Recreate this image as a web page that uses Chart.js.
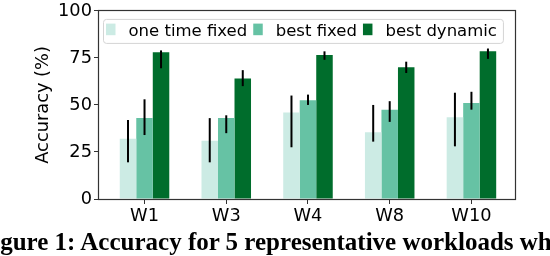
<!DOCTYPE html>
<html>
<head>
<meta charset="utf-8">
<script src="https://cdn.jsdelivr.net/npm/chart.js@4/dist/chart.umd.min.js"></script>
<style>
  html, body { margin: 0; padding: 0; background: #fff; }
  #wrap { position: relative; width: 550px; height: 256px; overflow: hidden; }
  #chartBox { position: absolute; left: 0; top: 0; width: 550px; height: 256px; }
  #caption {
    position: absolute; left: -22px; top: 229px;
    font: bold 25px "Liberation Serif", "Times New Roman", serif;
    line-height: 25px; white-space: nowrap; color: #000;
  }
</style>
</head>
<body>
<div id="wrap">
  <div id="chartBox"><canvas id="accChart"></canvas></div>
  <div id="caption">Figure 1: Accuracy for 5 representative workloads when</div>
</div>
<script>
// categories + series (accuracy %), with error bar ends
const categories = ['W1', 'W3', 'W4', 'W8', 'W10'];
const yTicks = [0, 25, 50, 75, 100];

const oneTimeFixed     = [32, 31, 46, 35.5, 43.5];
const oneTimeFixedLow  = [19.5, 19.5, 27.5, 30.5, 28];
const oneTimeFixedHigh = [42, 43, 55, 50, 56.5];

const bestFixed     = [43, 43, 52.5, 47.5, 51];
const bestFixedLow  = [34, 35, 50, 41, 47.5];
const bestFixedHigh = [53, 44.5, 55.5, 52, 57];

const bestDynamic     = [78, 64, 76.5, 70, 78.5];
const bestDynamicLow  = [69.5, 60, 74, 67, 74.5];
const bestDynamicHigh = [79, 68.5, 78.5, 73, 80];

const FONT = '"DejaVu Sans", sans-serif';
const toPoints = vals => vals.map((v, i) => ({ x: i, y: v }));

// error bars drawn through the scales
const errorBars = {
    id: 'errorBars',
    afterDatasetsDraw(chart) {
        const ctx = chart.ctx;
        const yScale = chart.scales.y;
        ctx.save();
        ctx.strokeStyle = '#000';
        ctx.lineWidth = 2;
        chart.data.datasets.forEach((ds, i) => {
            const meta = chart.getDatasetMeta(i);
            meta.data.forEach((bar, j) => {
                ctx.beginPath();
                ctx.moveTo(bar.x, yScale.getPixelForValue(ds.errLow[j]));
                ctx.lineTo(bar.x, yScale.getPixelForValue(ds.errHigh[j]));
                ctx.stroke();
            });
        });
        ctx.restore();
    }
};

// matplotlib style box around the plot
const frame = {
    id: 'frame',
    afterDraw(chart) {
        const { ctx, chartArea: a } = chart;
        ctx.save();
        ctx.strokeStyle = '#333';
        ctx.lineWidth = 1.2;
        ctx.strokeRect(Math.round(a.left) - 0.5, Math.round(a.top) - 0.5,
            Math.round(a.right - a.left) + 1, Math.round(a.bottom - a.top) + 1);
        ctx.restore();
    }
};

// legend inside the axes, upper left, in one row
const innerLegend = {
    id: 'innerLegend',
    afterDraw(chart) {
        const { ctx, chartArea: a } = chart;
        const patchW = 9.5, patchH = 11.6, textGap = 13, itemGap = 6;
        ctx.save();
        ctx.font = '16.5px ' + FONT;
        const items = chart.data.datasets.map(ds => ({
            text: ds.label, color: ds.backgroundColor, w: ctx.measureText(ds.label).width
        }));
        const boxX = a.left + 4, boxY = a.top + 8, boxH = 24;
        let boxW = 3 + 6;
        items.forEach((it, k) => { boxW += patchW + textGap + it.w + (k ? itemGap : 0); });

        ctx.fillStyle = 'rgba(255,255,255,0.8)';
        ctx.strokeStyle = '#d4d4d4';
        ctx.lineWidth = 1;
        ctx.beginPath();
        ctx.roundRect(boxX + 0.5, boxY + 0.5, boxW, boxH, 3);
        ctx.fill();
        ctx.stroke();

        let x = boxX + 3;
        ctx.textBaseline = 'middle';
        items.forEach(it => {
            ctx.fillStyle = it.color;
            ctx.fillRect(x, boxY + 4.7, patchW, patchH);
            x += patchW + textGap;
            ctx.fillStyle = '#000';
            ctx.fillText(it.text, x, boxY + 12.5);
            x += it.w + itemGap;
        });
        ctx.restore();
    }
};

const ctx = document.getElementById('accChart').getContext('2d');
new Chart(ctx, {
    type: 'bar',
    data: {
        datasets: [
            {
                label: 'one time fixed',
                data: toPoints(oneTimeFixed),
                errLow: oneTimeFixedLow, errHigh: oneTimeFixedHigh,
                backgroundColor: '#ccebe4'
            },
            {
                label: 'best fixed',
                data: toPoints(bestFixed),
                errLow: bestFixedLow, errHigh: bestFixedHigh,
                backgroundColor: '#66c2a4'
            },
            {
                label: 'best dynamic',
                data: toPoints(bestDynamic),
                errLow: bestDynamicLow, errHigh: bestDynamicHigh,
                backgroundColor: '#006d2c'
            }
        ]
    },
    options: {
        responsive: true,
        maintainAspectRatio: false,
        animation: false,
        events: [],
        layout: { padding: { left: 0, right: 35, top: 9, bottom: 0 } },
        datasets: { bar: { categoryPercentage: 0.606, barPercentage: 1, borderWidth: 0 } },
        scales: {
            x: {
                type: 'linear',
                offset: false,
                min: -0.557,
                max: 4.533,
                afterBuildTicks: s => { s.ticks = categories.map((c, i) => ({ value: i })); },
                afterFit: s => { s.height = 57; },
                grid: { offset: false, drawOnChartArea: false, drawTicks: true, tickLength: 5, color: '#333' },
                border: { display: false },
                ticks: {
                    autoSkip: false, maxRotation: 0, padding: 3, color: '#000',
                    font: { family: FONT, size: 17.8, lineHeight: 1 },
                    callback: v => categories[v]
                }
            },
            y: {
                min: 0,
                max: 100,
                afterBuildTicks: s => { s.ticks = yTicks.map(v => ({ value: v })); },
                afterFit: s => { s.width = 99; },
                grid: { drawOnChartArea: false, drawTicks: true, tickLength: 5, color: '#333' },
                border: { display: false },
                ticks: { padding: 2, color: '#000', font: { family: FONT, size: 17.8, lineHeight: 1 } },
                title: {
                    display: true, text: 'Accuracy (%)', color: '#000',
                    padding: { top: 33, bottom: 0 },
                    font: { family: FONT, size: 17.8, lineHeight: 1.2 }
                }
            }
        },
        plugins: {
            legend: { display: false },
            tooltip: { enabled: false }
        }
    },
    plugins: [errorBars, frame, innerLegend]
});
</script>
</body>
</html>
